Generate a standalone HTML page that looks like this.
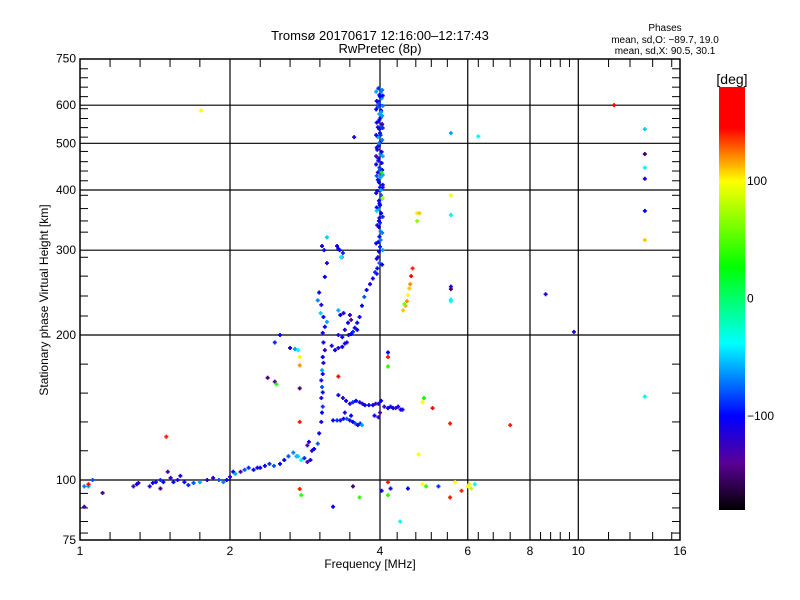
<!DOCTYPE html>
<html><head><meta charset="utf-8"><style>
html,body{margin:0;padding:0;background:#fff;}
svg{display:block;font-family:"Liberation Sans",sans-serif;}
</style></head><body>
<svg id="chart" width="800" height="600" viewBox="0 0 800 600">
<defs>
<linearGradient id="cbar" x1="0" y1="1" x2="0" y2="0">
<stop offset="0" stop-color="#000"/>
<stop offset="0.111" stop-color="#5a0096"/>
<stop offset="0.222" stop-color="#0000ff"/>
<stop offset="0.394" stop-color="#00ffff"/>
<stop offset="0.575" stop-color="#00ff00"/>
<stop offset="0.778" stop-color="#ffff00"/>
<stop offset="0.903" stop-color="#ff0000"/>
<stop offset="1" stop-color="#ff0000"/>
</linearGradient>
</defs>
<g id="grid"></g>
<g id="ticks"></g>
<g id="points"></g>
<rect x="80" y="59" width="600" height="481" fill="none" stroke="#000" stroke-width="1.5"/>
<g id="labels" font-size="12" fill="#000"></g>
<text x="380" y="40" font-size="13" text-anchor="middle">Tromsø 20170617 12:16:00–12:17:43</text>
<text x="380" y="53" font-size="13" text-anchor="middle">RwPretec (8p)</text>
<text x="665" y="31" font-size="10" text-anchor="middle">Phases</text>
<text x="665" y="43" font-size="10" text-anchor="middle">mean, sd,O: −89.7, 19.0</text>
<text x="665" y="54" font-size="10" text-anchor="middle">mean, sd,X:  90.5, 30.1</text>
<text x="370" y="568" font-size="12" text-anchor="middle">Frequency [MHz]</text>
<text transform="translate(48,300) rotate(-90)" font-size="12" text-anchor="middle">Stationary phase Virtual Height [km]</text>
<rect x="719" y="87" width="26" height="423" fill="url(#cbar)"/>
<text x="732" y="84" font-size="14" text-anchor="middle">[deg]</text>
<g id="cblabels" font-size="12"></g>
</svg>
<script>
const xTickVals=[1,2,4,6,8,10,16];
const yTickVals=[75,100,200,300,400,500,600,750];
const xGrid=[2,4,6,8,10];
const yGrid=[100,200,300,400,500,600];
const xMinor=[1.149,1.32,1.516,1.74,2.3,2.64,3.03,3.48,4.33,4.72,5.07,5.46,6.3,6.75,7.3,8.4,8.8,9.2,9.6,11.5,12.7,14.1,15.4];
const yMinor=[77.6,82,87.5,93.8,115,132,151.5,174,219,241,265,290,327,345,366,390,418,438,458,481,515,539,563,590,625,654,684,714];
const cbVals=[100,0,-100];

// vertical F-trace near 4 MHz
const freqA=[3.97,4.02,3.99,4.03,3.98,4.00,3.96,4.02,3.99,4.01,
3.97,4.03,3.99,4.00,3.96,4.02,3.98,3.95,4.01,3.97,
4.03,3.99,3.96,4.01,3.98,4.00,3.95,4.02,3.98,4.00,
3.97,4.02,3.99,4.00,3.98,4.01,3.99,3.97,4.00,3.98,
3.96,3.99,3.95,3.94,4.04,4.00,3.97,4.02,3.99,3.96,
4.01,3.98,4.03,3.97,4.00,3.96,4.02,3.99,3.98,4.01];
const heightA=[650,640,630,620,610,600,595,585,575,565,
555,545,535,525,515,505,495,485,475,465,
455,445,435,425,415,405,398,390,380,372,
365,358,350,342,335,328,320,312,305,298,
290,282,275,268,645,625,605,580,560,540,
520,500,480,460,440,420,400,375,345,315];
const phaseA=[-90,-70,-100,-60,-95,-110,-80,-100,-60,-95,
-105,-75,-100,-110,-60,-95,-100,-110,-70,-100,
-105,-90,-110,-60,-100,-95,-110,-80,-105,-100,
-60,-100,-110,-90,-105,-70,-100,-110,-95,-100,
-105,-80,-100,-110,-70,-100,-80,-60,-100,-110,
-90,-70,-100,-110,-80,-95,-60,-100,-110,-70];

// extra echoes widening the 4 MHz trace
const freqA2=[3.93,4.05,3.94,4.05,3.93,4.04,3.94,4.05,3.93,4.04,
3.94,4.05,3.93,4.04,3.94,4.05,3.93,4.04,3.94,4.05,
3.95,4.04,3.93,4.05,3.94,4.04,3.93,4.05,3.94,4.04];
const heightA2=[640,628,612,598,588,570,552,538,520,508,
490,470,452,440,428,410,394,384,368,352,
338,326,310,300,288,280,470,430,362,548];
const phaseA2=[-60,-100,-110,-70,-100,-60,-110,-90,-100,-70,
-110,-60,-100,-110,-80,-100,-110,-60,-100,-90,
-110,-70,-100,-60,-110,-100,-130,-60,-50,-130];

// low E/F trace 1-3 MHz
const freqB=[1.02,1.04,1.06,1.04,1.11,1.02,1.28,1.31,1.38,1.40,
1.42,1.45,1.47,1.50,1.52,1.54,1.57,1.59,1.62,1.65,
1.69,1.74,1.80,1.85,1.90,1.94,1.97,2.00,2.03,2.05,
2.10,2.14,2.18,2.23,2.27,2.30,2.35,2.40,2.45,2.52,
2.57,2.62,2.68,2.72,2.74,2.78,2.82,2.86,2.90,2.92,
2.86,2.88,2.95,3.00,1.45,1.30];
const heightB=[97,97,100,98,94,88,97,98.6,97,98.6,
99,100,99,104,101,99,100,102,99,97.6,
98.6,99,100,101,100,99,100,101.5,104,103,
104,105,106,105,106,106,107,108,107,108,
110,112,114,112,112,110,111,109,110,115,
118,120,116,119,96,98];
const phaseB=[-70,-60,-80,150,-130,-130,-130,-130,-110,-100,
-110,-90,-100,-130,-120,-100,-110,-110,-100,-90,
-80,-60,-110,-120,-80,-70,-100,-110,-100,-60,
-130,-80,-90,-100,-100,-110,-100,-90,-80,-100,
-100,-80,-70,-60,-50,-40,-90,-130,-110,-120,
-130,-110,-100,-80,-150,-100];

// branch near 3.1 MHz and cusp curve
const freqC=[3.02,3.05,3.06,3.07,3.05,3.07,3.06,3.05,3.07,3.06,
3.08,3.07,3.10,3.08,3.07,3.10,3.13,3.08,3.04,3.05,
3.00,3.02,3.06,3.13,3.09,3.13,3.10,3.20,3.25,3.30,
3.36,3.40,3.43,3.46,3.50,3.53,3.56,3.60,3.64,3.68,
3.72,3.76,3.82,3.87,3.91,3.30,3.36,3.40,3.45,3.48,
3.38,3.33,3.30,3.60,3.50,3.28,3.32,3.37,3.35,3.30];
const heightC=[125,132,138,142,148,152,156,161,166,169,
175,180,186,193,202,208,213,218,222,231,
236,245,306,319,300,282,264,190,186,188,
189,192,193,200,201,203,207,212,218,230,
240,248,255,262,270,200,198,205,212,220,
222,220,225,205,215,306,300,296,290,302];
const phaseC=[-100,-110,-100,-90,-110,-100,-80,-110,-100,-60,
-110,-100,-120,-100,-110,-100,-60,-100,-50,-110,
-70,-100,-110,-50,-100,-110,-100,-110,-100,-120,
-100,-110,-100,-110,-100,-90,-110,-100,-110,-100,
-80,-100,-110,-100,-90,-110,-100,-110,-100,-120,
-110,-100,-60,-100,-140,-110,-100,-90,-130,-100];

// horizontal traces near 145 and 133 km
const freqD=[3.30,3.37,3.42,3.48,3.53,3.58,3.64,3.69,3.73,3.80,
3.87,3.92,3.97,4.02,4.08,4.15,4.20,4.25,4.30,4.35,
4.40,4.44,3.97,3.90,4.00,3.22,3.28,3.33,3.38,3.43,
3.48,3.53,3.57,3.61,3.65,3.68,3.50,3.40];
const heightD=[150,148,146,144,145,146,145,144,143,143,
143,144,144,146,142,141,142,141,141,142,
140,140,135,136,138,133,133,133,134,134,
133,132,131,130,131,130,136,138];
const phaseD=[-110,-120,-100,-110,-90,-100,-110,-120,-100,-110,
-100,-130,-110,-100,-120,-100,-110,-100,-130,-110,
-100,-110,-120,-100,-140,-100,-90,-110,-100,-80,
-110,-100,-80,-110,-90,-60,-100,-110];

// scattered echoes
const freqE=[4.05,4.05,4.03,3.55,1.75,5.55,6.30,5.55,5.55,4.75,
4.80,4.75,5.55,5.55,8.60,9.80,11.8,13.6,13.6,13.6,
13.6,13.6,13.6,13.6,4.65,4.62,4.60,4.58,4.55,4.53,
4.50,4.45,4.48,2.52,2.46,2.64,2.70,2.74,2.76,2.76,
2.38,2.46,2.48,2.76,2.76,1.49,2.76,2.78,3.22,3.53,
3.64,4.03,4.15,4.15,4.20,4.39,4.55,4.87,4.95,5.24,
5.53,5.66,5.83,6.00,6.05,6.10,6.20,4.15,4.15,4.15,
4.87,4.90,5.10,4.78,5.53,5.55,5.55,3.30,7.30,3.34];
const heightE=[405,385,435,515,585,525,517,390,355,358,
358,345,252,237,243,203,600,535,475,445,
422,362,315,149,275,265,255,250,242,235,
230,225,232,200,193,188,187,186,173,180,
163,160,158,155,132,123,95.8,93,88,97,
92,95,99,93,96,82,96,98,97,97,
92,99,95,97,98,96,98,184,180,172,
145,148,141,113,131,249,235,164,130,290];
const phaseE=[-110,80,30,-110,100,-60,-40,100,-40,90,
110,70,-110,-40,-120,-110,170,-50,-150,-40,
-110,-100,110,-30,140,150,120,110,100,120,
115,110,60,-100,-90,-110,-60,-40,120,100,
-150,-140,40,-150,140,140,140,40,-100,-150,
40,-100,140,40,-110,-40,-100,100,40,-90,
140,100,140,100,90,80,-40,-100,140,40,
100,30,170,100,140,-150,-40,170,140,-40];

const NS='http://www.w3.org/2000/svg';
const L=80,R=680,T=59,B=540;
function xs(f){return L+150*Math.log2(f);}
function ys(h){return 480-145*Math.log2(h/100);}
function mk(tag,attrs,parent){const e=document.createElementNS(NS,tag);for(const k in attrs)e.setAttribute(k,attrs[k]);parent.appendChild(e);return e;}
const stops=[[-180,[0,0,0]],[-140,[90,0,150]],[-100,[0,0,255]],[-38,[0,255,255]],[27,[0,255,0]],[100,[255,255,0]],[145,[255,0,0]],[180,[255,0,0]]];
function pcol(v){v=Math.max(-180,Math.min(180,v));for(let i=0;i<stops.length-1;i++){const a=stops[i],b=stops[i+1];if(v<=b[0]){const t=(v-a[0])/(b[0]-a[0]);const c=a[1].map((x,j)=>Math.round(x+(b[1][j]-x)*t));return 'rgb('+c.join(',')+')';}}return 'rgb(255,0,0)';}

const grid=document.getElementById('grid');
xGrid.forEach(f=>{const l=mk('line',{x1:xs(f),x2:xs(f),y1:T,y2:B,stroke:'#000','stroke-width':1.2},grid);

});
yGrid.forEach(h=>{const l=mk('line',{x1:L,x2:R,y1:ys(h),y2:ys(h),stroke:'#000','stroke-width':1.2},grid);

});
const ticks=document.getElementById('ticks');
xMinor.forEach(f=>{const x=xs(f);
mk('line',{x1:x,x2:x,y1:B,y2:B-8,stroke:'#000','stroke-width':1},ticks);
mk('line',{x1:x,x2:x,y1:T,y2:T+8,stroke:'#000','stroke-width':1},ticks);});
yMinor.forEach(h=>{const y=ys(h);
mk('line',{x1:L,x2:L+8,y1:y,y2:y,stroke:'#000','stroke-width':1},ticks);
mk('line',{x1:R,x2:R-8,y1:y,y2:y,stroke:'#000','stroke-width':1},ticks);});
const labels=document.getElementById('labels');
xTickVals.forEach(f=>{const t=mk('text',{x:xs(f),y:555,'text-anchor':'middle'},labels);t.textContent=String(f);

});
yTickVals.forEach(h=>{const t=mk('text',{x:76,y:ys(h)+4,'text-anchor':'end'},labels);t.textContent=String(h);

});
const cbl=document.getElementById('cblabels');
cbVals.forEach(v=>{const y=87+(180-v)/360*423;const t=mk('text',{x:747,y:y+4},cbl);t.textContent=v<0?'−'+(-v):String(v);

});
const pts=document.getElementById('points');
const clusters=[[freqA,heightA,phaseA],[freqA2,heightA2,phaseA2],[freqB,heightB,phaseB],[freqC,heightC,phaseC],[freqD,heightD,phaseD],[freqE,heightE,phaseE]];
clusters.forEach(cl=>{const F=cl[0],H=cl[1],P=cl[2];const n=Math.min(F.length,H.length,P.length);
for(let i=0;i<n;i++){const x=xs(F[i]),y=ys(H[i]);const c=pcol(P[i]);
const p=mk('path',{d:'M'+(x-2)+' '+y+'H'+(x+2)+'M'+x+' '+(y-2)+'V'+(y+2),stroke:c,'stroke-width':1.8,fill:'none'},pts);

}});
</script>
</body></html>
